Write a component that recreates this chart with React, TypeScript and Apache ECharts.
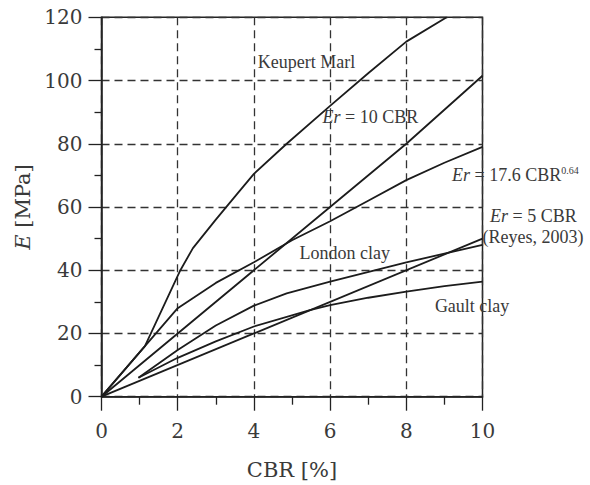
import React, { useEffect, useRef } from "react";
import * as echarts from "echarts";

const xTicks = [0, 2, 4, 6, 8, 10];
const yTicks = [0, 20, 40, 60, 80, 100, 120];

const keupertMarl: number[][] = [
  [0, 0], [1.14, 16], [2.07, 40], [2.4, 47], [3, 56], [3.55, 64], [4, 70.5],
  [4.86, 80], [6, 92], [7, 102.3], [8, 112.3], [9.06, 120],
];
const er10: number[][] = [[0, 0], [6, 60], [8, 80], [10, 101.5]];
const er176: number[][] = [
  [0, 0], [1.14, 16], [2, 28], [3, 36], [4, 42.5], [5, 49.5], [6, 55.5],
  [7, 62], [8, 68.5], [9, 74], [10, 79],
];
const er5: number[][] = [[0, 0], [10, 50]];
const londonClay: number[][] = [
  [0.97, 6], [2, 14.8], [3, 22.5], [4, 28.8], [4.86, 32.7], [6, 36.4],
  [8, 42.5], [10, 48],
];
const gaultClay: number[][] = [
  [0.97, 6], [2, 12.3], [3, 17.5], [4, 22.2], [5.47, 27.4], [6, 29],
  [7, 31.3], [8, 33.2], [9, 35], [10, 36.4],
];

const labelTexts = [
  "Keupert Marl",
  "{i|Er} = 10 CBR",
  "{i|Er} = 17.6 CBR{sup|0.64}",
  "{i|Er} = 5 CBR",
  "(Reyes, 2003)",
  "London clay",
  "Gault clay",
];
const labelPos: number[][] = [
  [4.1, 106], [5.8, 88.5], [9.2, 70.2], [10.2, 57], [10.0, 50.5], [5.2, 45.5], [8.75, 28.7],
];

const F_AX = "DejaVu Serif";
const F_G = "Liberation Serif";
const LINE = "#1c1c1c";
const TXT = "#3a3a3a";

export default function App() {
  const ref = useRef<HTMLDivElement>(null);
  useEffect(() => {
    if (!ref.current) return;
    const chart = echarts.init(ref.current, undefined, { renderer: "svg" });
    const mk = (d: number[][]) => ({
      type: "line",
      data: d,
      symbol: "none",
      smooth: false,
      lineStyle: { color: LINE, width: 1.8 },
      z: 5,
    });
    chart.setOption({
      animation: false,
      backgroundColor: "#ffffff",
      grid: {
        left: 101.5,
        right: 107.5,
        top: 17.3,
        bottom: 88.3,
        outerBoundsMode: "none",
        containLabel: false,
        show: true,
        borderColor: "#222",
        borderWidth: 1.5,
        backgroundColor: "transparent",
      },
      xAxis: {
        type: "value",
        min: xTicks[0],
        max: xTicks[xTicks.length - 1],
        interval: 2,
        name: "{n|CBR [%]}",
        nameLocation: "middle",
        nameGap: 63,
        nameTextStyle: {
          fontFamily: F_AX,
          fontSize: 21,
          color: TXT,
          rich: { n: { fontFamily: F_AX, fontSize: 21, color: TXT } },
        },
        axisLine: { lineStyle: { color: "#222", width: 1.5 } },
        axisTick: { show: true, inside: false, length: 14, lineStyle: { color: "#222", width: 1.3 } },
        minorTick: { show: true, splitNumber: 2, length: 8, lineStyle: { color: "#222", width: 1.3 } },
        axisLabel: { fontFamily: F_AX, fontSize: 20, color: TXT, margin: 24 },
        splitLine: { show: true, lineStyle: { color: "#333", width: 1.3, type: [8, 5] } },
      },
      yAxis: {
        type: "value",
        min: yTicks[0],
        max: yTicks[yTicks.length - 1],
        interval: 20,
        name: "{i|E} [MPa]",
        nameLocation: "middle",
        nameRotate: 90,
        nameGap: 64,
        nameTextStyle: {
          fontFamily: F_AX,
          fontSize: 21,
          color: TXT,
          rich: { i: { fontFamily: F_AX, fontSize: 21, fontStyle: "italic", color: TXT } },
        },
        axisLine: { show: true, lineStyle: { color: "#222", width: 1.5 } },
        axisTick: { show: true, inside: false, length: 13, lineStyle: { color: "#222", width: 1.3 } },
        minorTick: { show: true, splitNumber: 2, length: 7, lineStyle: { color: "#222", width: 1.3 } },
        axisLabel: { fontFamily: F_AX, fontSize: 20, color: TXT, margin: 19 },
        splitLine: { show: true, lineStyle: { color: "#333", width: 1.3, type: [8, 5] } },
      },
      series: [mk(keupertMarl), mk(er10), mk(er176), mk(er5), mk(londonClay), mk(gaultClay)],
    });
    const rich = {
      i: { fontFamily: F_G, fontSize: 18, fontStyle: "italic", fill: TXT },
      sup: { fontFamily: F_G, fontSize: 10, fill: TXT, verticalAlign: "top", padding: [0, 0, 8, 0] },
    };
    const graphics = labelTexts.map((t, k) => {
      const p = chart.convertToPixel({ gridIndex: 0 }, labelPos[k]) as number[];
      return {
        type: "text",
        x: p[0],
        y: p[1],
        z: 10,
        style: {
          text: t,
          fontFamily: F_G,
          fontSize: 18,
          fill: TXT,
          verticalAlign: "middle",
          align: "left",
          rich,
        },
      };
    });
    chart.setOption({ graphic: graphics });
    return () => chart.dispose();
  }, []);
  return (
    <div
      ref={ref}
      style={{ position: "fixed", left: 0, top: 0, width: 590, height: 485, background: "#fff" }}
    />
  );
}
